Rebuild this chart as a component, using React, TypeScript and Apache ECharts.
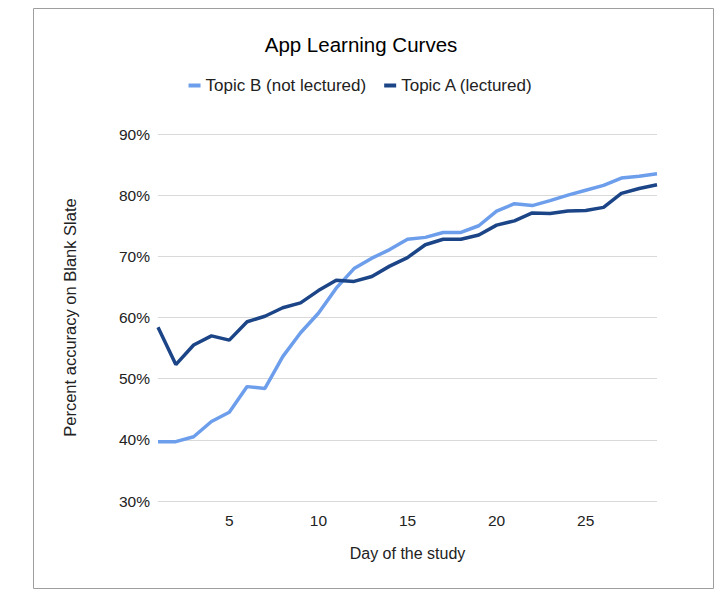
import React, { useEffect, useRef } from "react";
import * as echarts from "echarts";

const days = [1,2,3,4,5,6,7,8,9,10,11,12,13,14,15,16,17,18,19,20,21,22,23,24,25,26,27,28,29];
const topicB = [39.7,39.7,40.5,43.0,44.5,48.7,48.4,53.6,57.5,60.7,64.8,68.0,69.7,71.1,72.8,73.1,73.9,73.9,75.0,77.4,78.6,78.3,79.1,80.0,80.8,81.6,82.8,83.1,83.5];
const topicA = [58.4,52.3,55.5,57.0,56.3,59.3,60.2,61.6,62.4,64.4,66.1,65.9,66.7,68.4,69.8,71.9,72.8,72.8,73.5,75.1,75.8,77.1,77.0,77.4,77.5,78.0,80.3,81.1,81.7];
const seriesNames = ["Topic B (not lectured)", "Topic A (lectured)"];
const yTicks = { min: 30, max: 90, step: 10 };
const xRange = { min: 1, max: 29, labelEvery: 5 };

export default function App() {
  const ref = useRef<HTMLDivElement>(null);
  useEffect(() => {
    if (!ref.current) return;
    const chart = echarts.init(ref.current, null, { renderer: "svg" });
    const font = "Liberation Sans, Arial, sans-serif";
    chart.setOption({
      animation: false,
      textStyle: { fontFamily: font },
      graphic: [
        {
          type: "rect",
          shape: { x: 25.5, y: 0.5, width: 680, height: 580 },
          style: { fill: "#fff", stroke: "#9e9e9e", lineWidth: 1 },
          z: -10,
          silent: true,
        },
      ],
      title: {
        text: "App Learning Curves",
        left: "center",
        top: 21,
        textStyle: { fontFamily: font, fontSize: 20.5, fontWeight: "normal", color: "#000" },
      },
      legend: {
        top: 64,
        left: "center",
        icon: "rect",
        itemWidth: 12,
        itemHeight: 4,
        itemGap: 18,
        textStyle: { fontFamily: font, fontSize: 17, color: "#222" },
        data: seriesNames,
      },
      grid: { left: 150, right: 57, top: 126, bottom: 94, containLabel: false },
      xAxis: {
        type: "value",
        min: xRange.min,
        max: xRange.max,
        interval: 1,
        name: "Day of the study",
        nameLocation: "middle",
        nameGap: 44,
        nameTextStyle: { fontFamily: font, fontSize: 16, color: "#222" },
        axisLine: { show: false },
        axisTick: { show: false },
        splitLine: { show: false },
        axisLabel: {
          fontFamily: font,
          fontSize: 15.5,
          color: "#222",
          margin: 11,
          formatter: (v: number) => (v % xRange.labelEvery === 0 ? String(v) : ""),
        },
      },
      yAxis: {
        type: "value",
        min: yTicks.min,
        max: yTicks.max,
        interval: yTicks.step,
        name: "Percent accuracy on Blank Slate",
        nameLocation: "middle",
        nameGap: 80,
        nameTextStyle: { fontFamily: font, fontSize: 16.5, color: "#222" },
        axisLine: { show: false },
        axisTick: { show: false },
        splitLine: { lineStyle: { color: "#d9d9d9", width: 1 } },
        axisLabel: {
          fontFamily: font,
          fontSize: 15.5,
          color: "#222",
          margin: 8,
          formatter: "{value}%",
        },
      },
      series: [
        {
          name: seriesNames[0],
          type: "line",
          data: days.map((d, i) => [d, topicB[i]]),
          showSymbol: false,
          symbol: "none",
          lineStyle: { color: "#6d9eeb", width: 3.5 },
          itemStyle: { color: "#6d9eeb" },
        },
        {
          name: seriesNames[1],
          type: "line",
          data: days.map((d, i) => [d, topicA[i]]),
          showSymbol: false,
          symbol: "none",
          lineStyle: { color: "#1c4587", width: 3.5 },
          itemStyle: { color: "#1c4587" },
        },
      ],
    });
    return () => chart.dispose();
  }, []);
  return <div ref={ref} style={{ width: 706, height: 587 }} />;
}
